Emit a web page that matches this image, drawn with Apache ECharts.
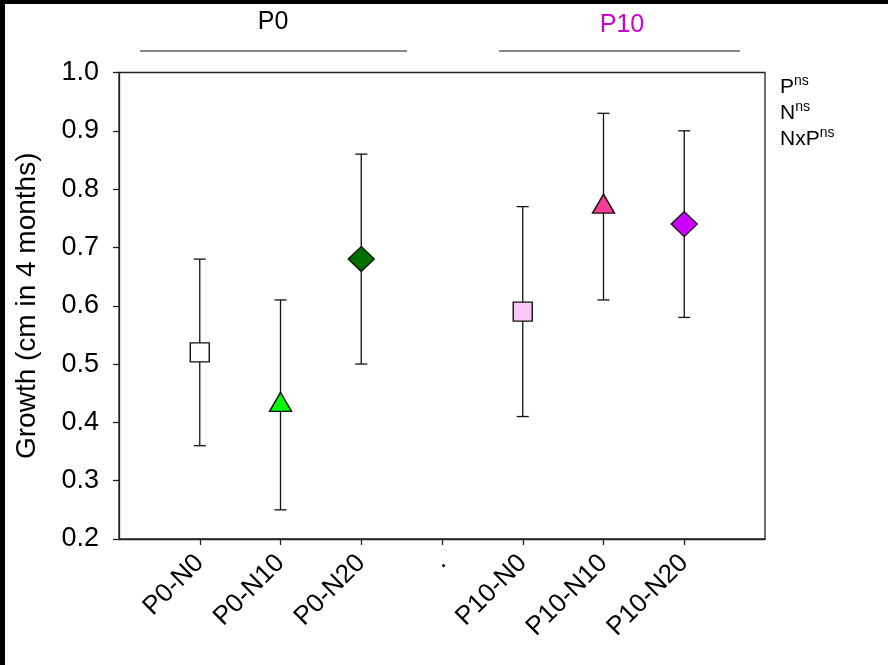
<!DOCTYPE html>
<html>
<head>
<meta charset="utf-8">
<script src="https://cdn.jsdelivr.net/npm/echarts@6/dist/echarts.min.js"></script>
<style>
html,body{margin:0;padding:0;background:#000;width:888px;height:665px;overflow:hidden;}
#chart{position:absolute;left:5px;top:4px;width:883px;height:661px;background:#fff;}
</style>
</head>
<body>
<div id="chart"></div>
<script>
const categories = ['', 'P0-N0', 'P0-N10', 'P0-N20', '.', 'P10-N0', 'P10-N10', 'P10-N20', ''];
const pointCategories = ['P0-N0', 'P0-N10', 'P0-N20', 'P10-N0', 'P10-N10', 'P10-N20'];
const means = [0.52, 0.43, 0.68, 0.59, 0.77, 0.74];
const lowers = [0.36, 0.25, 0.50, 0.41, 0.61, 0.58];
const uppers = [0.68, 0.61, 0.86, 0.77, 0.93, 0.90];
const symbols = ['rect', 'triangle', 'diamond', 'rect', 'triangle', 'diamond'];
const colors = ['#ffffff', '#00ff00', '#007000', '#f9c8f9', '#f83c96', '#cc00ff'];
const yTicks = [0.2, 0.3, 0.4, 0.5, 0.6, 0.7, 0.8, 0.9, 1.0];

const FONT = 'Liberation Sans, Arial, sans-serif';
const chart = echarts.init(document.getElementById('chart'));

const symbolSizes = {rect: [19, 19], triangle: [22, 19], diamond: [26, 25]};
const symbolOffsets = {rect: [0, 0], triangle: [0, -3], diamond: [0, 0]};

const scatterData = pointCategories.map((c, i) => ({
  value: [c, means[i]],
  symbol: symbols[i],
  symbolSize: symbolSizes[symbols[i]],
  symbolOffset: symbolOffsets[symbols[i]],
  itemStyle: {color: colors[i], borderColor: '#111', borderWidth: 1.4, opacity: 1}
}));
const errData = pointCategories.map((c, i) => [c, lowers[i], uppers[i]]);

chart.setOption({
  animation: false,
  backgroundColor: '#fff',
  grid: {left: 113, top: 68.5, width: 647, height: 466.5, show: true, borderColor: '#222', borderWidth: 1.3, backgroundColor: 'transparent'},
  xAxis: {
    type: 'category',
    data: categories,
    boundaryGap: false,
    axisLine: {lineStyle: {color: '#222', width: 1.3}},
    axisTick: {length: 6, lineStyle: {color: '#222', width: 1.3}, interval: function (idx) { return idx > 0 && idx < 8; }},
    axisLabel: {interval: 0, rotate: 45, margin: 20, fontSize: 26, color: '#000', fontFamily: FONT},
    splitLine: {show: false}
  },
  yAxis: {
    type: 'value',
    min: 0.2, max: 1.0, interval: 0.1,
    name: 'Growth (cm in 4 months)',
    nameLocation: 'middle',
    nameGap: 78,
    nameTextStyle: {fontSize: 28, color: '#000', fontFamily: FONT},
    axisLine: {show: true, lineStyle: {color: '#222', width: 1.3}},
    axisTick: {show: true, inside: false, length: 6, lineStyle: {color: '#222', width: 1.3}},
    axisLabel: {margin: 20, fontSize: 27, color: '#000', fontFamily: FONT, formatter: v => v.toFixed(1)},
    splitLine: {show: false}
  },
  graphic: [
    {type: 'text', x: 268, y: 18, style: {text: 'P0', fontSize: 25, fill: '#000', fontFamily: FONT, align: 'center', verticalAlign: 'middle'}},
    {type: 'line', shape: {x1: 135, y1: 47, x2: 402, y2: 47}, style: {stroke: '#111', lineWidth: 1.2}},
    {type: 'text', x: 617, y: 21, style: {text: 'P10', fontSize: 25, fill: '#cc00cc', fontFamily: FONT, align: 'center', verticalAlign: 'middle'}},
    {type: 'line', shape: {x1: 494, y1: 47, x2: 735, y2: 47}, style: {stroke: '#111', lineWidth: 1.2}},
    {type: 'text', left: 775, top: 68, style: {
      text: '{a|P}{s|ns}\n{a|N}{s|ns}\n{a|NxP}{s|ns}',
      rich: {
        a: {fontSize: 21, fill: '#000', fontFamily: FONT, lineHeight: 26, verticalAlign: 'bottom'},
        s: {fontSize: 14, fill: '#000', fontFamily: FONT, lineHeight: 26, verticalAlign: 'top', padding: [2, 0, 0, 0]}
      }
    }}
  ],
  series: [
    {
      type: 'custom',
      data: errData,
      z: 2,
      renderItem: function (params, api) {
        const x = api.value(0);
        const lo = api.coord([x, api.value(1)]);
        const hi = api.coord([x, api.value(2)]);
        const hw = 6;
        const style = {stroke: '#111', lineWidth: 1.3, fill: null};
        return {
          type: 'group',
          children: [
            {type: 'line', shape: {x1: lo[0], y1: lo[1], x2: hi[0], y2: hi[1]}, style: style},
            {type: 'line', shape: {x1: lo[0] - hw, y1: lo[1], x2: lo[0] + hw, y2: lo[1]}, style: style},
            {type: 'line', shape: {x1: hi[0] - hw, y1: hi[1], x2: hi[0] + hw, y2: hi[1]}, style: style}
          ]
        };
      },
      encode: {x: 0, y: [1, 2]}
    },
    {
      type: 'scatter',
      z: 3,
      data: scatterData
    }
  ]
});
</script>
</body>
</html>
